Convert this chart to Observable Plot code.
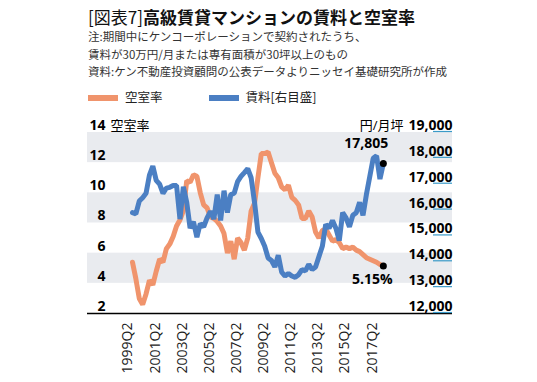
<!DOCTYPE html>
<html><head><meta charset="utf-8">
<script src="https://cdn.jsdelivr.net/npm/d3@7"></script>
<script src="https://cdn.jsdelivr.net/npm/@observablehq/plot@0.6"></script>
<style>
body{margin:0;background:#fff;}
#wrap{position:relative;width:537px;height:382px;overflow:hidden;background:#fff;}
.jp{font-family:"Noto Sans CJK JP","Noto Sans",sans-serif;white-space:nowrap;position:absolute;left:88px;}
.title{top:7px;font-size:17px;line-height:20px;color:#111;}
.title .br{font-weight:400;}
.title b{font-weight:700;}
.sub{top:28px;font-size:11.5px;line-height:17.5px;color:#333;}
.legend{top:88px;font-size:12.5px;line-height:18px;color:#222;}
.sw{display:inline-block;width:30px;height:6px;vertical-align:middle;margin-right:7px;position:relative;top:-1px;}
#chart{position:absolute;left:0;top:110px;}
</style></head>
<body>
<div id="wrap">
  <div class="jp title"><span class="br">[図表7]</span><b>高級賃貸マンションの賃料と空室率</b></div>
  <div class="jp sub">注:期間中にケンコーポレーションで契約されたうち、<br>賃料が30万円/月または専有面積が30坪以上のもの<br>資料:ケン不動産投資顧問の公表データよりニッセイ基礎研究所が作成</div>
  <div class="jp legend"><span class="sw" style="background:#f0946c"></span>空室率<span style="display:inline-block;width:46px"></span><span class="sw" style="background:#4b7fc3"></span>賃料[右目盛]</div>
  <div id="chart"></div>
</div>
<script>
// quarterly data 1999Q2 .. 2017Q4
const vacancy = [5.4, 4.3, 3.0, 2.6, 3.3, 4.2, 3.9, 4.8, 5.6, 5.4,
  6.3, 6.6, 7.1, 7.8, 8.2, 8.8, 10.8, 10.7, 11.2, 11.1,
  10.0, 9.2, 9.0, 8.4, 8.3, 8.1, 7.8, 7.3, 6.0, 6.8,
  5.6, 7.0, 6.7, 6.2, 7.0, 8.8, 9.3, 11.0, 12.6, 12.6,
  12.7, 12.0, 11.3, 11.0, 10.4, 10.2, 10.5, 9.7, 9.5, 9.2,
  8.3, 8.3, 8.8, 8.4, 7.4, 7.0, 7.5, 7.6, 7.2, 6.8,
  6.9, 6.7, 6.3, 6.4, 6.3, 6.4, 6.2, 6.1, 5.9, 5.7,
  5.6, 5.5, 5.4, 5.25, 5.15];
const rent = [15900, 15850, 16350, 16480, 16650, 17350, 17700, 17150, 17000, 16650,
  16850, 16880, 16950, 16950, 15650, 16900, 16300, 15300, 15550, 14950,
  15480, 15350, 15700, 15950, 15650, 16600, 15600, 16750, 15900, 16600,
  16650, 17100, 17300, 17450, 17600, 17250, 16300, 15150, 14900, 14600,
  14150, 14050, 13800, 14250, 13600, 13450, 13550, 13450, 13400, 13500,
  13700, 13650, 13900, 13700, 13800, 14200, 14600, 15450, 15300, 15600,
  15300, 14820, 15900, 15700, 15350, 15800, 15900, 16300, 15800, 16600,
  17300, 18000, 18100, 17200, 17805];
const xTickLabels = ["1999Q2","2001Q2","2003Q2","2005Q2","2007Q2","2009Q2","2011Q2","2013Q2","2015Q2","2017Q2"];
const leftTicks = [14, 12, 10, 8, 6, 4, 2];
const rightTicks = [19000, 18000, 17000, 16000, 15000, 14000, 13000, 12000];
const bands = [[12, 14], [8, 10], [4, 6]];

const orange = "#f0946c", blue = "#4b7fc3";
const conv = r => 2 + (r - 12000) / 7000 * 12;
const data = vacancy.map((v, i) => ({i, v, rv: conv(rent[i])}));
const last = data[data.length - 1];
const xTicks = xTickLabels.map((t, k) => ({i: k * 8, t}));
const xDomain = [-13.27, 94.4];
const pxPerUnit = 365 / (xDomain[1] - xDomain[0]);
const font = '"Open Sans","Noto Sans CJK JP",sans-serif';

const plot = Plot.plot({
  width: 537, height: 272,
  marginTop: 22, marginBottom: 69, marginLeft: 87, marginRight: 85,
  x: {domain: xDomain, axis: null},
  y: {domain: [2, 14], axis: null},
  style: {fontFamily: font, background: "transparent", overflow: "visible"},
  marks: [
    Plot.rect(bands, {y1: d => d[0], y2: d => d[1], fill: "#e9ebef"}),
    Plot.ruleY([2], {stroke: "#000", strokeWidth: 1.5}),
    Plot.line(data, {x: "i", y: "v", stroke: orange, strokeWidth: 5, strokeLinejoin: "miter"}),
    Plot.line(data, {x: "i", y: "rv", stroke: blue, strokeWidth: 5, strokeLinejoin: "miter"}),
    Plot.dot([last], {x: "i", y: "rv", r: 3.5, fill: "#000"}),
    Plot.dot([last], {x: "i", y: "v", r: 3.5, fill: "#000"}),
    Plot.text([last], {x: "i", y: "rv", text: d => d3.format(",")(rent[rent.length - 1]), dx: -17, dy: -20, fontSize: 14, fontWeight: "bold", fill: "#000"}),
    Plot.text([last], {x: "i", y: "v", text: d => d.v + "%", dx: -11, dy: 14, fontSize: 14, fontWeight: "bold", fill: "#000"}),
    Plot.text(leftTicks, {y: d => d, text: d => String(d), frameAnchor: "left", textAnchor: "end", dx: 18, dy: -7, fontSize: 14, fontWeight: "bold", fill: "#000"}),
    Plot.text([{y: 14, t: "空室率"}], {y: "y", text: "t", frameAnchor: "left", textAnchor: "start", dx: 23, dy: -7, fontSize: 13, fill: "#000"}),
    Plot.text(rightTicks, {y: d => conv(d), text: d => d3.format(",")(d), frameAnchor: "right", textAnchor: "end", dy: -7, fontSize: 14, fontWeight: "bold", fill: "#000"}),
    Plot.ruleY(rightTicks, {y: d => conv(d), x1: xDomain[1] - 19 / pxPerUnit, x2: xDomain[1], dy: -1, stroke: "#3a9ac8", strokeWidth: 1.2}),
    Plot.text([{y: 14, t: "円/月坪"}], {y: "y", text: "t", frameAnchor: "right", textAnchor: "end", dx: -49, dy: -7, fontSize: 13, fill: "#000"}),
    Plot.text(xTicks, {x: "i", text: "t", frameAnchor: "bottom", rotate: -90, textAnchor: "end", dy: 9, fontSize: 14, fill: "#222"})
  ]
});
document.getElementById("chart").appendChild(plot);
</script>
</body></html>
